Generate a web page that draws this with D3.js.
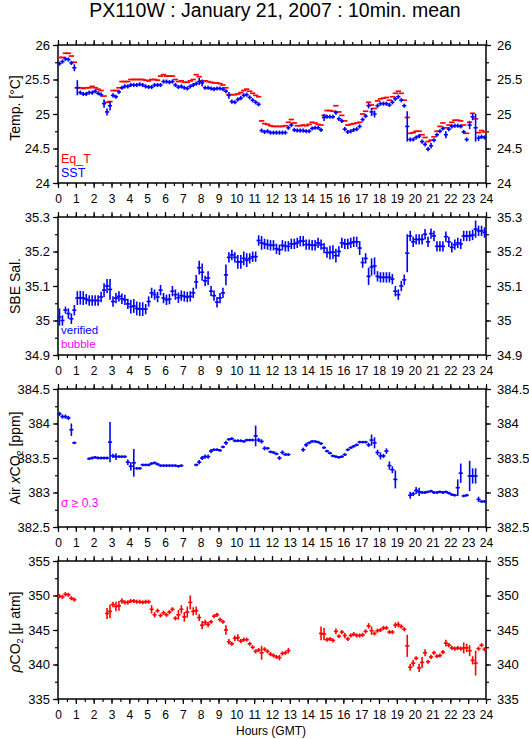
<!DOCTYPE html>
<html><head><meta charset="utf-8">
<script src="https://cdn.jsdelivr.net/npm/d3@7/dist/d3.min.js"></script>
<style>
body{margin:0;background:#fff}
svg{display:block}
text{font-family:"Liberation Sans",Arial,Helvetica,sans-serif;fill:#000}
</style>
</head><body>
<svg id="c" width="529" height="739"></svg>
<script>
// ---------- DATA (10-minute means, 6 per hour, index i -> hour (i+0.5)/6) ----------
const titleText = "PX110W : January 21, 2007 : 10min. mean";
const hourLabels = d3.range(0, 25);

const tempTicks = [24, 24.5, 25, 25.5, 26];
const salTicks = [34.9, 35, 35.1, 35.2, 35.3];
const airTicks = [382.5, 383, 383.5, 384, 384.5];
const pco2Ticks = [335, 340, 345, 350, 355];

const eqT = [
 25.82,25.82,25.88,25.88,25.84,25.75, 25.38,25.38,25.37,25.38,25.38,25.40,
 25.38,25.36,25.34,25.26,25.17,25.18, 25.34,25.34,25.38,25.47,25.47,25.47,
 25.50,25.50,25.50,25.50,25.50,25.49, 25.48,25.50,25.50,25.49,25.55,25.57,
 25.55,25.55,25.55,25.50,25.47,25.48, 25.46,25.46,25.48,25.50,25.57,25.54,
 25.48,25.48,25.47,25.46,25.45,25.45, 25.44,25.42,25.38,25.28,25.28,25.28,
 25.29,25.31,25.34,25.36,25.33,25.30, 25.27,25.25,24.90,24.86,24.85,24.83,
 24.82,24.82,24.82,24.82,24.83,24.88, 24.92,24.87,24.83,24.83,24.84,24.83,
 24.85,24.88,24.87,24.85,24.84,24.98, 25.05,25.05,25.04,25.12,25.03,24.98,
 24.90,24.84,24.85,24.86,24.87,24.88, 25.00,25.04,25.17,25.13,25.08,25.19,
 25.22,25.23,25.24,25.20,25.25,25.30, 25.33,25.30,25.20,24.95,24.72,24.73,
 24.75,24.75,24.70,24.66,24.60,24.62, 24.67,24.75,24.82,24.87,24.80,24.84,
 24.88,24.91,24.91,24.90,24.84,24.72, 24.88,25.01,24.93,24.73,24.76,24.74
];
const sst = [
 25.73,25.76,25.80,25.79,25.74,25.67, 25.38,25.31,25.29,25.29,25.31,25.31,
 25.33,25.30,25.28,25.15,25.03,25.12, 25.27,25.25,25.32,25.38,25.40,25.40,
 25.42,25.42,25.42,25.43,25.42,25.40, 25.39,25.39,25.42,25.42,25.42,25.47,
 25.47,25.46,25.47,25.42,25.39,25.40, 25.38,25.37,25.40,25.42,25.44,25.47,
 25.45,25.38,25.38,25.37,25.36,25.37, 25.37,25.36,25.33,25.27,25.18,25.17,
 25.21,25.23,25.27,25.28,25.24,25.20, 25.17,25.14,24.76,24.74,24.75,24.73,
 24.73,24.73,24.73,24.73,24.73,24.80, 24.84,24.77,24.76,24.76,24.76,24.75,
 24.75,24.79,24.80,24.80,24.77,24.95, 24.96,24.96,24.96,25.02,24.93,24.90,
 24.78,24.74,24.75,24.77,24.78,24.82, 24.92,24.97,25.12,25.03,25.00,25.12,
 25.15,25.15,25.15,25.13,25.17,25.22, 25.25,25.20,25.12,24.82,24.63,24.63,
 24.66,24.68,24.60,24.56,24.49,24.54, 24.62,24.70,24.75,24.79,24.70,24.78,
 24.82,24.83,24.83,24.82,24.74,24.63, 24.84,24.96,24.80,24.65,24.67,24.66
];
const sstErr = [
 .03,.03,.03,.03,.03,.05, .11,.03,.03,.03,.03,.03,
 .03,.03,.03,.06,.05,.07, .03,.03,.03,.03,.03,.03,
 .03,.03,.03,.03,.03,.03, .03,.03,.03,.03,.03,.03,
 .03,.03,.03,.03,.03,.03, .03,.03,.03,.03,.03,.05,
 .05,.03,.03,.03,.03,.03, .03,.03,.03,.05,.03,.03,
 .03,.03,.03,.03,.03,.03, .03,.03,.03,.03,.03,.03,
 .03,.03,.03,.03,.03,.03, .03,.03,.03,.03,.03,.03,
 .03,.03,.03,.03,.03,.05, .03,.03,.03,.03,.03,.03,
 .03,.03,.03,.03,.03,.03, .03,.03,.04,.06,.05,.03,
 .03,.03,.03,.03,.03,.03, .03,.03,.03,.22,.03,.03,
 .03,.03,.03,.03,.03,.04, .03,.03,.03,.03,.05,.03,
 .03,.03,.03,.03,.03,.03, .06,.05,.20,.04,.03,.03
];

const sal = [
 35.010,35.000,35.030,35.020,35.005,35.030, 35.065,35.066,35.065,35.062,35.058,35.058,
 35.058,35.058,35.068,35.088,35.100,35.090, 35.055,35.065,35.070,35.063,35.060,35.048,
 35.040,35.042,35.035,35.033,35.033,35.033, 35.055,35.080,35.075,35.068,35.088,35.065,
 35.060,35.062,35.085,35.075,35.066,35.072, 35.070,35.068,35.070,35.080,35.112,35.153,
 35.140,35.115,35.123,35.085,35.072,35.053, 35.065,35.080,35.132,35.183,35.190,35.183,
 35.170,35.170,35.180,35.175,35.180,35.185, 35.185,35.232,35.225,35.222,35.220,35.218,
 35.218,35.208,35.205,35.218,35.215,35.215, 35.222,35.222,35.225,35.230,35.230,35.220,
 35.220,35.218,35.218,35.225,35.220,35.210, 35.197,35.197,35.198,35.188,35.200,35.225,
 35.222,35.222,35.225,35.228,35.228,35.210, 35.168,35.180,35.128,35.155,35.158,35.128,
 35.125,35.125,35.125,35.125,35.120,35.085, 35.075,35.100,35.118,35.195,35.245,35.228,
 35.235,35.235,35.235,35.250,35.228,35.252, 35.245,35.215,35.215,35.215,35.243,35.228,
 35.212,35.220,35.225,35.222,35.245,35.245, 35.245,35.248,35.265,35.260,35.260,35.255
];
const salErr = [
 .025,.015,.010,.015,.015,.015, .020,.020,.020,.015,.015,.015,
 .015,.015,.015,.020,.020,.030, .015,.015,.015,.015,.015,.015,
 .020,.020,.020,.020,.020,.015, .015,.015,.015,.015,.015,.015,
 .015,.015,.015,.015,.015,.015, .015,.015,.015,.015,.020,.020,
 .025,.015,.020,.015,.015,.015, .015,.015,.030,.015,.015,.015,
 .020,.020,.020,.020,.015,.015, .015,.015,.020,.015,.015,.015,
 .015,.015,.015,.015,.015,.015, .015,.015,.015,.015,.015,.015,
 .015,.015,.015,.015,.015,.015, .015,.020,.020,.020,.015,.015,
 .015,.015,.015,.015,.015,.020, .015,.015,.025,.025,.025,.015,
 .015,.015,.015,.015,.015,.015, .015,.015,.015,.055,.015,.015,
 .015,.015,.015,.015,.015,.015, .015,.015,.015,.015,.015,.015,
 .015,.015,.015,.015,.015,.015, .015,.015,.025,.015,.015,.015
];

const airCO2 = [
 384.14,384.10,384.10,384.08,383.91,383.72, null,null,null,null,383.49,383.50,
 383.51,383.50,383.50,383.50,383.50,383.73, 383.53,383.52,383.52,383.52,383.52,383.44,
 383.38,383.43,383.35,383.35,383.40,383.40, 383.40,383.42,383.43,383.41,383.39,383.39,
 383.39,383.39,383.39,383.39,383.38,383.39, null,null,null,null,383.40,383.44,
 383.50,383.52,383.52,383.60,383.62,383.62, 383.61,383.66,383.72,383.77,383.78,383.75,
 383.75,383.75,383.74,383.76,383.76,383.76, 383.82,383.76,383.74,383.64,383.64,383.59,
 383.58,383.56,383.50,383.58,383.55,383.55, null,null,null,null,383.62,383.69,
 383.72,383.74,383.74,383.73,383.71,383.65, 383.60,383.57,383.53,383.52,383.51,383.52,
 383.55,383.62,383.65,383.67,383.69,383.73, 383.73,383.73,383.69,383.76,383.72,383.58,
 383.53,383.53,383.60,383.39,383.33,383.19, null,null,null,null,382.96,382.98,
 383.03,383.01,383.00,383.00,383.01,383.02, 383.00,383.00,383.01,383.00,383.01,382.99,
 382.97,382.96,383.07,383.28,382.95,382.96, 383.24,383.24,383.24,382.90,382.87,382.87
];
const airErr = [
 .03,.03,.03,.03,.09,.02, 0,0,0,0,.02,.02,
 .02,.02,.02,.02,.02,.29, .03,.05,.02,.02,.02,.04,
 .06,.20,.02,.02,.02,.02, .02,.02,.02,.02,.02,.02,
 .02,.02,.02,.02,.02,.02, 0,0,0,0,.02,.03,
 .03,.03,.03,.03,.02,.02, .02,.02,.03,.02,.02,.02,
 .02,.02,.02,.02,.02,.02, .15,.03,.03,.03,.02,.02,
 .02,.02,.03,.03,.02,.02, 0,0,0,0,.03,.03,
 .02,.02,.02,.02,.02,.02, .02,.02,.02,.02,.02,.02,
 .02,.02,.02,.02,.02,.02, .02,.02,.03,.08,.08,.04,
 .05,.03,.04,.06,.05,.13, 0,0,0,0,.05,.03,
 .05,.06,.02,.02,.02,.02, .02,.02,.02,.02,.02,.02,
 .02,.02,.12,.14,.02,.02, .22,.11,.11,.04,.02,.02
];

const pco2 = [
 349.9,349.8,350.2,350.1,349.6,349.4, null,null,null,null,null,null,
 null,null,null,null,347.4,347.7, 348.7,348.4,348.5,349.2,349.0,349.0,
 349.2,349.2,349.1,349.1,349.0,349.1, 349.1,348.0,347.2,347.8,347.1,347.5,
 347.2,347.6,348.0,346.7,347.2,348.0, 346.9,347.6,349.0,347.7,347.8,346.8,
 345.7,346.1,345.8,346.2,347.0,347.2, 346.5,346.2,345.0,343.3,343.0,343.8,
 343.9,343.4,343.6,343.6,343.0,342.5, 341.9,342.1,341.7,342.2,341.9,341.5,
 341.3,341.1,341.0,341.6,341.7,342.0, null,null,null,null,null,null,
 null,null,null,null,344.5,344.4, 343.6,343.7,343.5,344.8,344.1,344.7,
 344.2,343.7,344.2,344.4,344.2,344.2, 344.3,344.8,345.6,344.9,344.5,344.9,
 345.0,345.3,345.3,344.7,344.7,345.7, 345.8,345.5,345.1,342.7,339.6,340.2,
 340.9,339.5,340.3,341.7,340.4,341.1, 341.7,341.2,341.3,341.8,343.1,342.8,
 342.4,342.3,342.4,342.3,342.4,342.4, 342.0,340.6,340.2,342.3,342.8,342.2
];
const pco2Err = [
 .3,.3,.3,.3,.3,.3, 0,0,0,0,0,0,
 0,0,0,0,.8,1.0, .4,.7,.7,.4,.3,.3,
 .3,.3,.3,.3,.3,.3, .3,.6,.4,.3,.3,.3,
 .3,.3,.3,.3,.7,.6, .7,.8,1.0,.6,.6,.5,
 .6,.4,.4,.3,.3,.3, .3,.3,.7,.4,.3,.4,
 .5,.3,.3,.3,.3,.3, .3,.3,1.0,.3,.3,.3,
 .3,.3,.4,.3,.3,.4, 0,0,0,0,0,0,
 0,0,0,0,1.0,.9, .3,.3,.3,.4,.3,.3,
 .4,.3,.3,.3,.3,.3, .3,.3,.4,.6,.3,.3,
 .3,.3,.3,.3,.3,.4, .4,.3,.3,1.6,.5,.5,
 .3,.6,.8,.5,.3,.3, .3,.3,.3,.3,.5,.3,
 .3,.3,.3,.3,.8,.6, .8,.6,1.8,.3,.3,.3
];

// ---------- LAYOUT ----------
const svg = d3.select("#c");
const W = 529, H = 739;
const x0 = 58, x1 = 486;
const panelH = 138;
const x = d3.scaleLinear().domain([0, 24]).range([x0, x1]);
const font = '"Liberation Sans",Arial,Helvetica,sans-serif';

svg.append("rect").attr("width", W).attr("height", H).attr("fill", "#fff");

svg.append("text").attr("x", 275).attr("y", 17).attr("text-anchor", "middle")
  .attr("font-size", 19.5).text(titleText);

const panels = [
  {top: 45, ticks: tempTicks, minor: 0.25, label: "Temp. [°C]", labelY: -6},
  {top: 217, ticks: salTicks, minor: 0.05, label: "SBE Sal.", labelY: 0},
  {top: 389, ticks: airTicks, minor: 0.25, label: "air", labelY: 0},
  {top: 561, ticks: pco2Ticks, minor: 2.5, label: "pco2", labelY: 2}
];

panels.forEach((p, k) => {
  const lo = p.ticks[0], hi = p.ticks[p.ticks.length - 1];
  p.y = d3.scaleLinear().domain([lo, hi]).range([p.top + panelH, p.top]);
  const g = svg.append("g");
  p.g = g;
  const minorVals = d3.range(lo, hi + 1e-9, p.minor).map(v => +v.toFixed(4));
  const hourMinor = d3.range(0, 24.001, 0.5);
  const fmt = d => String(+d.toFixed(3));
  const styleAxis = (sel, fs) => {
    sel.select(".domain").remove();
    sel.selectAll("line").attr("stroke", "#000").attr("stroke-width", 1.2);
    sel.selectAll("text").attr("font-size", fs || 12).attr("font-family", font).attr("fill", "#000");
  };
  // minor ticks
  g.append("g").attr("transform", `translate(${x0},0)`)
    .call(d3.axisLeft(p.y).tickValues(minorVals).tickSize(3).tickFormat("")).call(styleAxis);
  g.append("g").attr("transform", `translate(${x1},0)`)
    .call(d3.axisRight(p.y).tickValues(minorVals).tickSize(3).tickFormat("")).call(styleAxis);
  g.append("g").attr("transform", `translate(0,${p.top})`)
    .call(d3.axisTop(x).tickValues(hourMinor).tickSize(3).tickFormat("")).call(styleAxis);
  g.append("g").attr("transform", `translate(0,${p.top + panelH})`)
    .call(d3.axisBottom(x).tickValues(hourMinor).tickSize(3).tickFormat("")).call(styleAxis);
  // major ticks
  g.append("g").attr("transform", `translate(${x0},0)`)
    .call(d3.axisLeft(p.y).tickValues(p.ticks).tickSize(5).tickPadding(3).tickFormat(fmt)).call(styleAxis, 13);
  g.append("g").attr("transform", `translate(${x1},0)`)
    .call(d3.axisRight(p.y).tickValues(p.ticks).tickSize(5).tickPadding(6).tickFormat(fmt)).call(styleAxis, 13);
  g.append("g").attr("transform", `translate(0,${p.top})`)
    .call(d3.axisTop(x).tickValues(hourLabels).tickSize(5).tickFormat("")).call(styleAxis);
  const bx = g.append("g").attr("transform", `translate(0,${p.top + panelH})`)
    .call(d3.axisBottom(x).tickValues(hourLabels).tickSize(5).tickPadding(6).tickFormat(d => d)).call(styleAxis, 12);
  bx.selectAll("text").attr("dy", "0.71em");
  // frame
  g.append("rect").attr("x", x0).attr("y", p.top).attr("width", x1 - x0).attr("height", panelH)
    .attr("fill", "none").attr("stroke", "#000").attr("stroke-width", 1.5);
  // y title
  const ty = g.append("text")
    .attr("transform", `translate(20,${p.top + panelH / 2 + p.labelY}) rotate(-90)`)
    .attr("text-anchor", "middle").attr("font-size", 14);
  if (k === 2) {
    ty.append("tspan").text("Air ");
    ty.append("tspan").attr("font-style", "italic").text("x");
    ty.append("tspan").text("CO");
    ty.append("tspan").attr("font-size", 9).attr("dy", 3).text("2");
    ty.append("tspan").attr("dy", -3).text(" [ppm]");
  } else if (k === 3) {
    ty.append("tspan").attr("font-style", "italic").text("ρ");
    ty.append("tspan").text("CO");
    ty.append("tspan").attr("font-size", 9).attr("dy", 3).text("2");
    ty.append("tspan").attr("dy", -3).text(" [μ atm]");
  } else {
    ty.text(p.label);
  }
});

svg.append("text").attr("x", 271).attr("y", 735).attr("text-anchor", "middle")
  .attr("font-size", 12).text("Hours (GMT)");

// ---------- MARKS ----------
function toPoints(vals, errs) {
  return vals.map((v, i) => ({t: (i + 0.5) / 6, v: v, e: errs ? errs[i] : 0}))
             .filter(d => d.v !== null);
}
function drawDashes(p, vals, color, halfMin) {
  p.g.append("g").selectAll("line").data(toPoints(vals, null)).join("line")
    .attr("x1", d => x(d.t - halfMin / 60)).attr("x2", d => x(d.t + halfMin / 60))
    .attr("y1", d => p.y(d.v)).attr("y2", d => p.y(d.v))
    .attr("stroke", color).attr("stroke-width", 1.7);
}
function drawCrosses(p, vals, errs, color, halfMin) {
  const pts = toPoints(vals, errs);
  const g = p.g.append("g");
  g.selectAll("line.h").data(pts).join("line").attr("class", "h")
    .attr("x1", d => x(d.t - halfMin / 60)).attr("x2", d => x(d.t + halfMin / 60))
    .attr("y1", d => p.y(d.v)).attr("y2", d => p.y(d.v))
    .attr("stroke", color).attr("stroke-width", 1.6);
  g.selectAll("line.v").data(pts).join("line").attr("class", "v")
    .attr("x1", d => x(d.t)).attr("x2", d => x(d.t))
    .attr("y1", d => p.y(d.v - d.e)).attr("y2", d => p.y(d.v + d.e))
    .attr("stroke", color).attr("stroke-width", 1.6);
}

drawDashes(panels[0], eqT, "#ff0000", 9);
drawCrosses(panels[0], sst, sstErr, "#0000ff", 7);
drawCrosses(panels[1], sal, salErr, "#0000ff", 7);
drawCrosses(panels[2], airCO2, airErr, "#0000ff", 7);
drawCrosses(panels[3], pco2, pco2Err, "#ff0000", 7);

// ---------- LEGENDS ----------
const leg = (xx, yy, txt, col, fs) => svg.append("text").attr("x", xx).attr("y", yy)
  .attr("font-size", fs || 12).attr("fill", col).style("fill", col).text(txt);
leg(61, 163, "Eq_T", "#ff0000", 12.5);
leg(61, 177, "SST", "#0000ff", 12.5);
leg(61, 334, "verified", "#0000ff", 11.5);
leg(61, 348, "bubble", "#ff00ff", 11.5);
leg(61, 507, "σ ≥ 0.3", "#ff00ff", 12);
</script>
</body></html>
